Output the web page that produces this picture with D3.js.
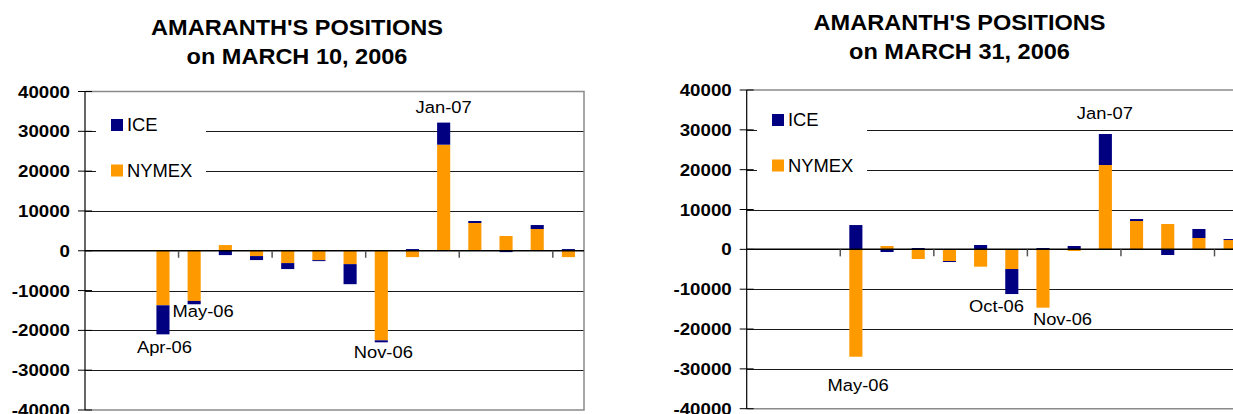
<!DOCTYPE html>
<html>

<head>
	<title>Amaranth's Positions</title>
	<style>
		body {
			margin: 0;
			background: #ffffff;
		}
		svg text {
			font-family: Arial, "Liberation Sans", sans-serif;
			fill: #000000;
		}
	</style>
</head>

<body>
	<script src="https://d3js.org/d3.v7.min.js"></script>
	<script type="text/javascript">
		// contract months on the x axis (first two slots are empty in both charts)
		var months = ["Feb-06", "Mar-06", "Apr-06", "May-06", "Jun-06", "Jul-06", "Aug-06", "Sep-06",
			"Oct-06", "Nov-06", "Dec-06", "Jan-07", "Feb-07", "Mar-07", "Apr-07", "May-07"];

		// positions on March 10, 2006
		var nymexMar10 = [0, 0, -13700, -12600, 1430, -1340, -3100, -2350, -3360, -22500, -1600, 26640, 6970, 3700, 5460, -1600];
		var iceMar10 = [0, 0, -7300, -840, -1090, -1000, -1500, -250, -5040, -500, 420, 5550, 500, -340, 1000, 420];

		// positions on March 31, 2006
		var nymexMar31 = [0, 0, 0, -26950, 840, -2430, -2930, -4350, -4940, -14640, -420, 21170, 7110, 6360, 2850, 2340];
		var iceMar31 = [0, 0, 0, 6100, -670, 330, -250, 1090, -6280, 330, 840, 7780, 500, -1420, 2260, 250];

		var yTicks = [-40000, -30000, -20000, -10000, 0, 10000, 20000, 30000, 40000];
		var seriesKeys = ["NYMEX", "ICE"];
		var legendKeys = ["ICE", "NYMEX"];
		var colors = {ICE: "#000080", NYMEX: "#ff9900"};

		// month labels drawn next to some bars
		var labelsMar10 = ["Apr-06", "May-06", "Nov-06", "Jan-07"];
		var labelsMar31 = ["May-06", "Oct-06", "Nov-06", "Jan-07"];

		var svg = d3.select("body").append("svg")
			.attr("width", 1233)
			.attr("height", 414);

		function txt(g, str, x, y, size, weight, anchor, sx) {
			return g.append("text")
				.attr("transform", "translate(" + x + "," + y + ") scale(" + sx + ",1)")
				.attr("text-anchor", anchor)
				.style("font-size", size + "px")
				.style("font-weight", weight)
				.text(str);
		}

		function drawChart(cfg) {
			var g = svg.append("g");
			var rows = months.map(function(m, i) {
				return {month: m, NYMEX: cfg.nymex[i], ICE: cfg.ice[i]};
			});

			var x = d3.scaleBand()
				.domain(months)
				.range([cfg.left, cfg.right])
				.paddingInner(0.58)
				.paddingOuter(0.29);
			var y = d3.scaleLinear()
				.domain([-40000, 40000])
				.range([cfg.bottom, cfg.top]);
			var step = x.step();

			// titles
			txt(g, "AMARANTH'S POSITIONS", cfg.titleX, cfg.titleY, 22, "bold", "middle", 1.07);
			txt(g, "on " + cfg.date, cfg.titleX, cfg.titleY + 29, 22, "bold", "middle", 1.07);

			// gridlines
			g.selectAll(".grid")
				.data(yTicks.filter(function(t) { return t !== 0 && Math.abs(t) !== 40000; }))
				.enter().append("line")
				.attr("x1", cfg.left)
				.attr("x2", cfg.right)
				.attr("y1", function(d) { return Math.round(y(d)) + 0.5; })
				.attr("y2", function(d) { return Math.round(y(d)) + 0.5; })
				.style("stroke", "#1a1a1a")
				.style("stroke-width", 1);

			// plot border (top, right, bottom)
			g.append("path")
				.attr("d", "M" + cfg.left + "," + y(40000) + "H" + cfg.right + "V" + y(-40000) + "H" + cfg.left)
				.style("fill", "none")
				.style("stroke", "#8a8a8a")
				.style("stroke-width", 1.5);

			// legend box hides the gridlines behind it
			var lg = g.append("g").attr("transform", "translate(" + cfg.legendX + "," + cfg.legendY + ")");
			lg.append("rect")
				.attr("width", 110)
				.attr("height", 95)
				.style("fill", "#ffffff");
			legendKeys.forEach(function(k, i) {
				lg.append("rect")
					.attr("x", 15)
					.attr("y", 19 + i * 45.5)
					.attr("width", 12)
					.attr("height", 12)
					.style("fill", colors[k]);
				txt(lg, k, 31, 31 + i * 45.5, 17.5, "normal", "start", 1.05);
			});

			// stacked bars, positives up and negatives down from zero
			var stacked = d3.stack()
				.keys(seriesKeys)
				.offset(d3.stackOffsetDiverging)(rows);

			g.selectAll(".series")
				.data(stacked)
				.enter().append("g")
				.style("fill", function(d) { return colors[d.key]; })
				.selectAll("rect")
				.data(function(d) { return d; })
				.enter().append("rect")
				.attr("x", function(d) { return x(d.data.month); })
				.attr("width", x.bandwidth())
				.attr("y", function(d) { return y(Math.max(d[0], d[1])); })
				.attr("height", function(d) { return Math.abs(y(d[0]) - y(d[1])); });

			// y axis with crossing ticks
			g.append("line")
				.attr("x1", cfg.left).attr("x2", cfg.left)
				.attr("y1", y(40000)).attr("y2", y(-40000))
				.style("stroke", "#000000")
				.style("stroke-width", 1.2);
			g.selectAll(".ytick")
				.data(yTicks)
				.enter().append("line")
				.attr("x1", cfg.left - 7)
				.attr("x2", cfg.left + 7)
				.attr("y1", function(d) { return y(d); })
				.attr("y2", function(d) { return y(d); })
				.style("stroke", "#000000")
				.style("stroke-width", 1);
			yTicks.forEach(function(t) {
				txt(g, t, cfg.left - 15, y(t) + 6, 17, "bold", "end", 1.1);
			});

			// x axis at zero, tick marks every third month
			g.append("line")
				.attr("x1", cfg.left).attr("x2", cfg.right)
				.attr("y1", y(0)).attr("y2", y(0))
				.style("stroke", "#000000")
				.style("stroke-width", 1.5);
			g.selectAll(".xtick")
				.data(months.filter(function(m, i) { return i > 0 && i % 3 === 0; }))
				.enter().append("line")
				.attr("x1", function(d) { return x(d) - step * 0.29; })
				.attr("x2", function(d) { return x(d) - step * 0.29; })
				.attr("y1", y(0))
				.attr("y2", y(0) + 7)
				.style("stroke", "#555555")
				.style("stroke-width", 1.5);

			// month callouts
			cfg.labels.forEach(function(m, i) {
				var row = rows[months.indexOf(m)];
				var pos = Math.max(row.NYMEX, 0) + Math.max(row.ICE, 0);
				var neg = Math.min(row.NYMEX, 0) + Math.min(row.ICE, 0);
				var off = cfg.labelOffsets[i];
				var cx = x(m) + x.bandwidth() / 2 + off[0];
				var cy = off[2] === "top" ? y(pos) + off[1] : y(neg) + off[1];
				txt(g, m, cx, cy, 17, "normal", "middle", 1.08);
			});
		}

		drawChart({
			nymex: nymexMar10, ice: iceMar10, date: "MARCH 10, 2006",
			left: 85, right: 584, top: 91.5, bottom: 410,
			titleX: 297, titleY: 34.5,
			legendX: 96, legendY: 100,
			labels: labelsMar10,
			labelOffsets: [[1.5, 19, "bottom"], [9, 13, "bottom"], [2, 15.5, "bottom"], [0, -9.5, "top"]]
		});

		drawChart({
			nymex: nymexMar31, ice: iceMar31, date: "MARCH 31, 2006",
			left: 746.7, right: 1245.7, top: 90, bottom: 408.7,
			titleX: 959.5, titleY: 29.5,
			legendX: 757, legendY: 95,
			labels: labelsMar31,
			labelOffsets: [[2.3, 34, "bottom"], [-15.3, 18.3, "bottom"], [19.5, 17.4, "bottom"], [-0.5, -14.8, "top"]]
		});
	</script>
</body>

</html>
